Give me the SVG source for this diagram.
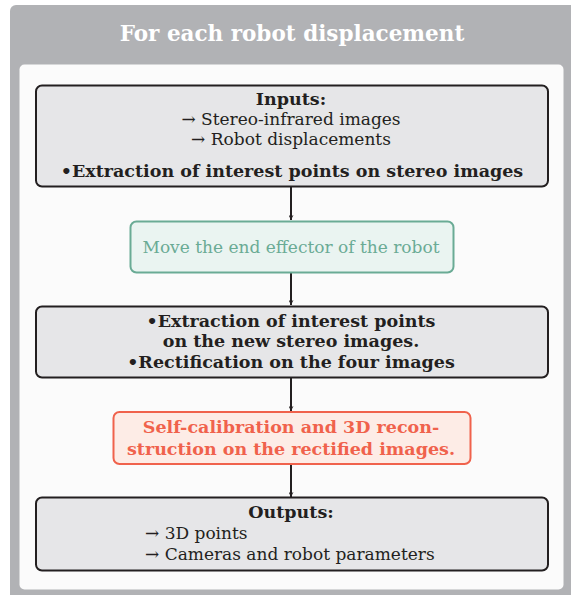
<svg xmlns="http://www.w3.org/2000/svg" width="571" height="595" viewBox="0 0 571 595">
<style>
text{font-family:"DejaVu Serif",serif;text-anchor:middle;fill:#231f20;font-size:17px}
.b{font-weight:bold;font-size:17.5px}
.box{fill:#e6e6e8;stroke:#231f20;stroke-width:2}
.conn{stroke:#231f20;stroke-width:2;fill:none}
</style>
<defs>
<marker id="ah" viewBox="0 0 10 10" refX="10" refY="5" markerWidth="5" markerHeight="5" orient="auto" markerUnits="userSpaceOnUse">
<path d="M0,0 L10,5 L0,10 L3,5 z" fill="#231f20"/>
</marker>
</defs>
<g id="frame">
<rect x="10" y="5" width="570" height="600" rx="6" fill="#b1b2b5"/>
<text x="292" y="41" style="fill:#ffffff;font-size:21.5px" class="b">For each robot displacement</text>
<rect x="19.5" y="64.5" width="544" height="525" rx="5" fill="#fbfbfb"/>
</g>
<g id="connectors">
<line class="conn" x1="291" y1="187" x2="291" y2="220" marker-end="url(#ah)"/>
<line class="conn" x1="291" y1="273" x2="291" y2="305" marker-end="url(#ah)"/>
<line class="conn" x1="291" y1="378" x2="291" y2="411" marker-end="url(#ah)"/>
<line class="conn" x1="291" y1="464" x2="291" y2="497" marker-end="url(#ah)"/>
</g>
<g id="inputs">
<rect class="box" x="36" y="85.5" width="512" height="101" rx="6"/>
<text x="291" y="105" class="b">Inputs:</text>
<text x="291" y="125">→ Stereo-infrared images</text>
<text x="291" y="145">→ Robot displacements</text>
<text x="292" y="177" class="b">•Extraction of interest points on stereo images</text>
</g>
<g id="move">
<rect x="130.5" y="221.5" width="323" height="51" rx="6" fill="#eaf4f1" stroke="#6aab95" stroke-width="2"/>
<text x="291" y="253" style="fill:#6aab95">Move the end effector of the robot</text>
</g>
<g id="extraction">
<rect class="box" x="36" y="306.5" width="512" height="71" rx="6"/>
<text x="291" y="327" class="b">•Extraction of interest points</text>
<text x="291" y="347" class="b">on the new stereo images.</text>
<text x="291" y="368" class="b">•Rectification on the four images</text>
</g>
<g id="selfcal">
<rect x="113.5" y="412" width="357" height="52" rx="6" fill="#fdece6" stroke="#f0624c" stroke-width="2"/>
<text x="291" y="433" class="b" style="fill:#f0624c">Self-calibration and 3D recon-</text>
<text x="291" y="455" class="b" style="fill:#f0624c">struction on the rectified images.</text>
</g>
<g id="outputs">
<rect class="box" x="36" y="497.5" width="512" height="73" rx="6"/>
<text x="291" y="518" class="b">Outputs:</text>
<text x="145" y="539" style="text-anchor:start">→ 3D points</text>
<text x="145" y="560" style="text-anchor:start">→ Cameras and robot parameters</text>
</g>
</svg>
